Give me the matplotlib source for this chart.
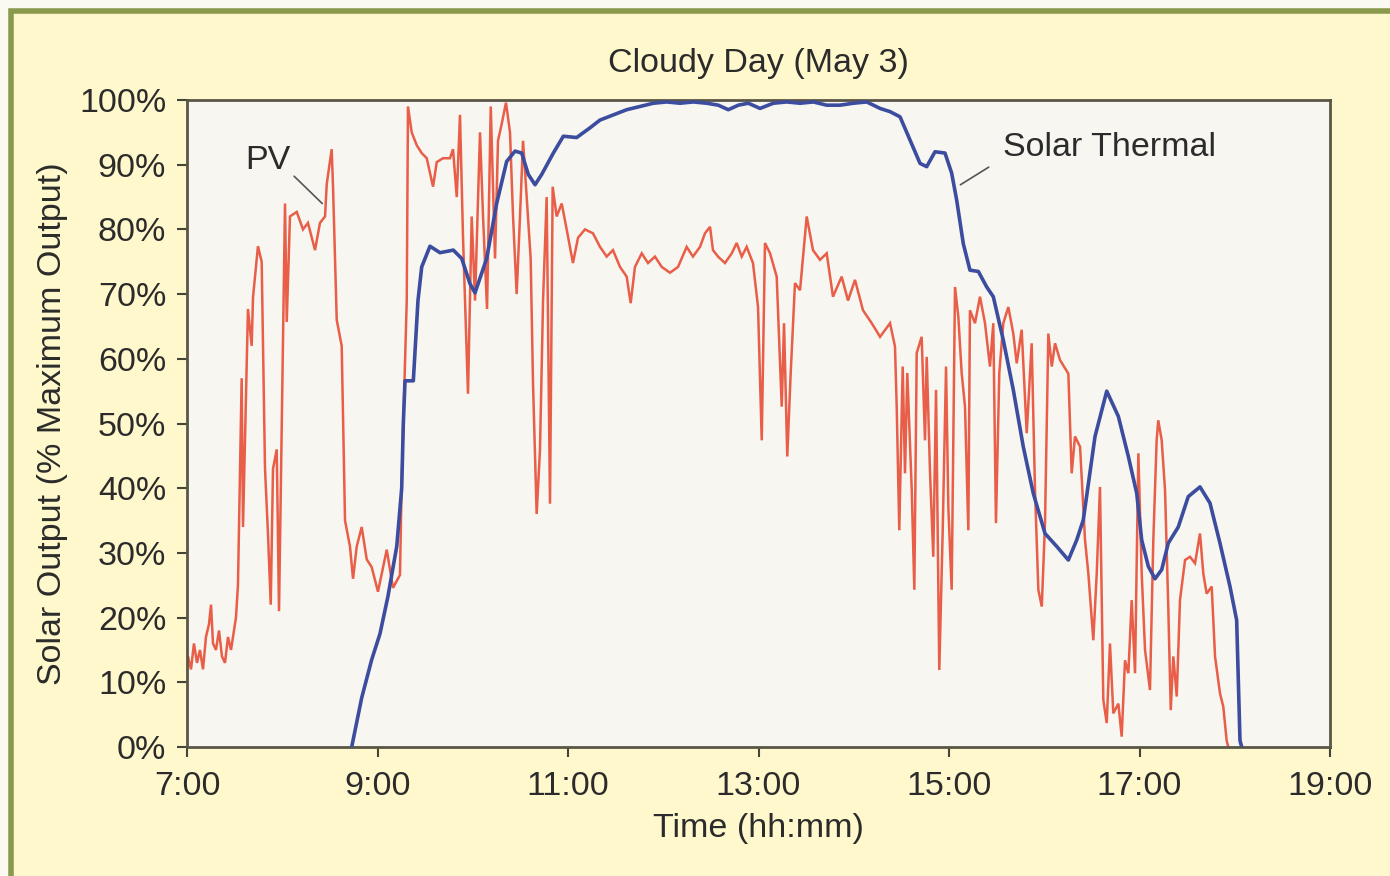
import matplotlib
matplotlib.use("Agg")
import matplotlib.pyplot as plt
from matplotlib.patches import Rectangle

# --- data (time in decimal hours, output in %) ---
pv_time = [
    7.000, 7.010, 7.042, 7.073, 7.105, 7.136, 7.168, 7.199, 7.231, 7.252,
    7.273, 7.304, 7.336, 7.367, 7.399, 7.430, 7.462, 7.493, 7.514, 7.535,
    7.574, 7.588, 7.640, 7.679, 7.693, 7.745, 7.784, 7.819, 7.850, 7.879,
    7.903, 7.942, 7.966, 7.994, 8.029, 8.047, 8.081, 8.152, 8.218, 8.270,
    8.344, 8.396, 8.449, 8.467, 8.519, 8.533, 8.572, 8.624, 8.659, 8.711,
    8.743, 8.782, 8.834, 8.887, 8.939, 9.005, 9.097, 9.163, 9.236, 9.254,
    9.307, 9.320, 9.359, 9.412, 9.464, 9.517, 9.583, 9.622, 9.688, 9.761,
    9.793, 9.832, 9.866, 9.898, 9.950, 9.989, 10.024, 10.076, 10.108, 10.150,
    10.189, 10.234, 10.265, 10.304, 10.349, 10.391, 10.423, 10.461, 10.496, 10.528,
    10.566, 10.608, 10.633, 10.671, 10.706, 10.738, 10.776, 10.811, 10.839, 10.881,
    10.934, 10.986, 11.052, 11.105, 11.178, 11.262, 11.336, 11.406, 11.472, 11.546,
    11.616, 11.658, 11.703, 11.774, 11.840, 11.913, 11.984, 12.071, 12.155, 12.246,
    12.312, 12.386, 12.438, 12.491, 12.522, 12.575, 12.648, 12.719, 12.771, 12.824,
    12.876, 12.942, 12.995, 13.034, 13.068, 13.121, 13.191, 13.244, 13.268, 13.302,
    13.338, 13.383, 13.436, 13.506, 13.572, 13.646, 13.716, 13.782, 13.873, 13.940,
    14.013, 14.097, 14.189, 14.276, 14.381, 14.433, 14.451, 14.478, 14.514, 14.538,
    14.562, 14.609, 14.636, 14.661, 14.713, 14.748, 14.766, 14.801, 14.835, 14.864,
    14.898, 14.934, 14.969, 14.993, 15.028, 15.063, 15.098, 15.133, 15.168, 15.203,
    15.220, 15.273, 15.325, 15.378, 15.430, 15.465, 15.493, 15.528, 15.570, 15.623,
    15.675, 15.711, 15.763, 15.816, 15.868, 15.903, 15.938, 15.974, 16.008, 16.043,
    16.079, 16.113, 16.166, 16.253, 16.288, 16.323, 16.376, 16.428, 16.463, 16.515,
    16.551, 16.585, 16.620, 16.656, 16.690, 16.725, 16.778, 16.813, 16.848, 16.883,
    16.918, 16.953, 16.988, 17.023, 17.058, 17.110, 17.145, 17.180, 17.197, 17.233,
    17.268, 17.302, 17.328, 17.355, 17.391, 17.425, 17.478, 17.530, 17.583, 17.635,
    17.670, 17.705, 17.758, 17.793, 17.845, 17.880, 17.915, 17.932,
]
pv_output = [
    13, 14, 12, 16, 13, 15, 12, 17, 19, 22,
    16, 15, 18, 14, 13, 17, 15, 18, 20, 25,
    57, 34, 67.7, 62, 69.5, 77.4, 75, 43, 33, 22,
    43, 46, 21, 49, 84, 65.7, 82, 82.7, 80, 81,
    76.8, 81, 82, 87, 92.4, 86.6, 66, 62, 35, 31,
    26, 31, 34, 29, 27.8, 24, 30.5, 24.6, 26.6, 41,
    69, 99, 95, 93, 91.8, 91, 86.6, 90.4, 91, 91,
    92.4, 85, 97.7, 78.7, 54.6, 82, 69, 95, 82, 67.7,
    99, 75.5, 93.7, 96.3, 99.6, 95, 82, 70, 82, 93.7,
    85, 75.5, 56, 36, 46, 69, 85, 37.6, 86.6, 82,
    84, 80, 74.8, 78.7, 80, 79.4, 77.3, 75.8, 76.8, 74.2,
    72.7, 68.6, 74.2, 76.3, 74.8, 75.8, 74.2, 73.3, 74.2, 77.3,
    75.8, 77.3, 79.4, 80.4, 76.8, 75.8, 74.8, 76.3, 77.9, 75.8,
    77.3, 74.8, 68, 47.4, 77.9, 76.3, 72.7, 52.6, 65.5, 44.9,
    57.8, 71.7, 70.6, 82, 76.8, 75.3, 76.3, 69.6, 72.7, 69,
    72.2, 67.5, 65.5, 63.4, 65.5, 61.9, 52.6, 33.5, 58.8, 42.3,
    57.8, 39.7, 24.3, 60.9, 63.4, 47.4, 60.3, 42.3, 29.4, 55.2,
    11.9, 33.5, 58.8, 37.1, 24.3, 71.1, 66.5, 57.8, 52.6, 33.5,
    67.5, 65.5, 69.6, 65.5, 58.8, 65.5, 34.6, 57.8, 65.5, 68,
    63.9, 59.3, 64.5, 48.5, 62.4, 39.7, 24.3, 21.7, 34.6, 63.9,
    58.8, 62.4, 59.8, 57.7, 42.3, 48, 46.4, 32, 26.8, 16.5,
    26.8, 40.2, 7.3, 3.7, 16, 5.2, 6.7, 1.6, 13.4, 11.4,
    22.7, 11.4, 45.4, 26.8, 15, 8.8, 32, 47.4, 50.5, 47.4,
    39.7, 21.7, 5.7, 14, 7.8, 22.7, 28.9, 29.4, 28.4, 33,
    26.8, 23.7, 24.8, 14, 8.3, 6.2, 1, 0,
]

thermal_time = [
    8.729, 8.834, 8.939, 9.026, 9.110, 9.202, 9.254, 9.271, 9.289, 9.376,
    9.425, 9.464, 9.551, 9.656, 9.796, 9.884, 9.971, 10.024, 10.146, 10.251,
    10.356, 10.444, 10.514, 10.583, 10.654, 10.724, 10.846, 10.951, 11.091, 11.231,
    11.336, 11.476, 11.616, 11.756, 11.896, 12.036, 12.176, 12.315, 12.456, 12.578,
    12.683, 12.788, 12.893, 13.016, 13.155, 13.296, 13.436, 13.575, 13.716, 13.856,
    13.995, 14.136, 14.276, 14.381, 14.486, 14.591, 14.696, 14.766, 14.853, 14.958,
    15.028, 15.081, 15.150, 15.220, 15.308, 15.396, 15.465, 15.570, 15.675, 15.780,
    15.885, 16.008, 16.131, 16.253, 16.341, 16.410, 16.533, 16.656, 16.778, 16.883,
    16.971, 17.023, 17.093, 17.163, 17.233, 17.302, 17.407, 17.512, 17.635, 17.740,
    17.845, 17.950, 18.020, 18.055, 18.073,
]
thermal_output = [
    0, 7.6, 13.5, 17.5, 23.3, 31, 40, 50, 56.6, 56.6,
    69, 74.2, 77.4, 76.4, 76.8, 75.5, 71.6, 70.2, 75.5, 84,
    90.5, 92.1, 91.8, 88.5, 86.9, 88.5, 91.8, 94.4, 94.2, 95.7,
    96.9, 97.7, 98.5, 99, 99.5, 99.7, 99.5, 99.7, 99.5, 99.2,
    98.5, 99.2, 99.5, 98.7, 99.5, 99.7, 99.5, 99.7, 99.2, 99.2,
    99.5, 99.7, 98.7, 98.2, 97.4, 93.8, 90.2, 89.7, 92, 91.8,
    88.7, 84.5, 77.8, 73.7, 73.5, 71.1, 69.6, 62.9, 55.2, 46.4,
    39.2, 33, 31, 28.9, 32, 35.1, 48, 55, 51.1, 44.9,
    39.2, 32, 27.9, 26, 27.4, 31.5, 34, 38.7, 40.2, 37.7,
    31.5, 24.8, 19.6, 1, 0,
]

x_ticks = [7, 9, 11, 13, 15, 17, 19]
x_ticklabels = ["7:00", "9:00", "11:00", "13:00", "15:00", "17:00", "19:00"]
y_ticks = list(range(0, 101, 10))
y_ticklabels = [f"{v}%" for v in y_ticks]

plt.rcParams['font.family'] = ['Liberation Sans', 'DejaVu Sans']
FS = 24.5
TEXT = '#2b2b2b'

fig = plt.figure(figsize=(13.9, 8.76), dpi=100, facecolor='#fbfaf0')
# yellow panel with green frame (cropped at right/bottom like the source)
fig.patches.append(Rectangle((11 / 1390, -0.05), 1.2, 1 - 11 / 876 + 0.05,
                             transform=fig.transFigure, facecolor='#fff8cc',
                             edgecolor='#8a9a4c', linewidth=4, zorder=-10))

ax = fig.add_axes([187 / 1390, 1 - 747 / 876, (1330 - 187) / 1390, (747 - 100) / 876])
ax.set_facecolor('#f7f6f0')

ax.plot(pv_time, pv_output, color='#e6432a', lw=1.8, alpha=0.85, zorder=2,
        solid_joinstyle='miter')
ax.plot(thermal_time, thermal_output, color='#3c4c9e', lw=2.6, zorder=3,
        solid_joinstyle='round')

ax.set_xlim(7, 19)
ax.set_ylim(0, 100)
ax.set_xticks(x_ticks)
ax.set_xticklabels(x_ticklabels)
ax.set_yticks(y_ticks)
ax.set_yticklabels(y_ticklabels)
ax.tick_params(axis='both', labelsize=FS, colors='#444438', labelcolor=TEXT,
               direction='out', length=7, width=1.5)
ax.tick_params(axis='y', pad=8)
ax.tick_params(axis='x', pad=10)
for s in ax.spines.values():
    s.set_color('#5a5646')
    s.set_linewidth(2)

ax.set_title("Cloudy Day (May 3)", fontsize=FS, color=TEXT, pad=20)
ax.set_xlabel("Time (hh:mm)", fontsize=FS, color=TEXT, labelpad=8)
ax.set_ylabel("Solar Output (% Maximum Output)", fontsize=FS, color=TEXT, labelpad=8)

ax.annotate("PV", xy=(8.42, 84), xytext=(7.61, 90.7), fontsize=FS, color=TEXT,
            ha='left', va='center',
            arrowprops=dict(arrowstyle='-', color='#555555', lw=1.2,
                            relpos=(1, 0.1), shrinkA=1, shrinkB=0))
ax.annotate("Solar Thermal", xy=(15.12, 86.9), xytext=(15.57, 92.7), fontsize=FS,
            color=TEXT, ha='left', va='center',
            arrowprops=dict(arrowstyle='-', color='#555555', lw=1.2,
                            relpos=(0, 0.15), shrinkA=10, shrinkB=0))

fig.savefig("out.png", dpi=100, facecolor=fig.get_facecolor())
